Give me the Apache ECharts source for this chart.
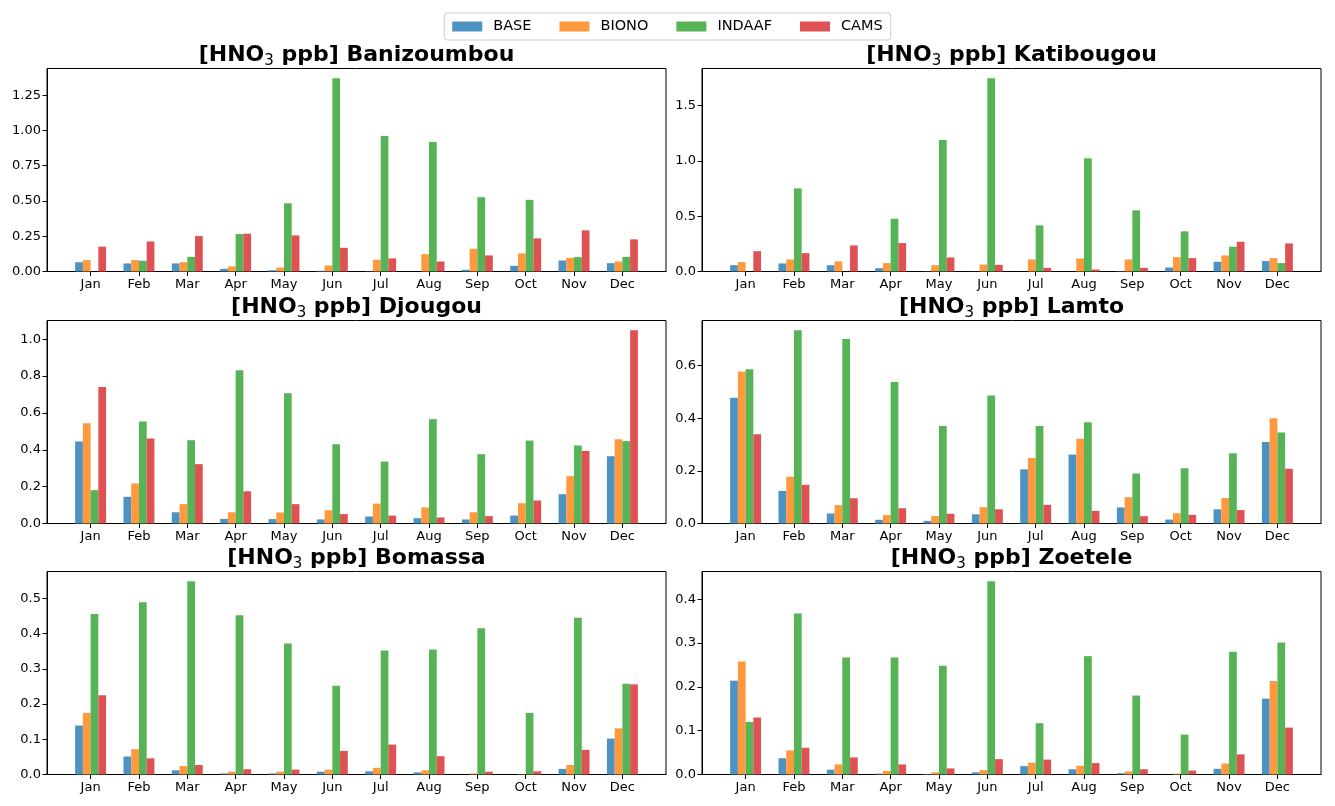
<!DOCTYPE html>
<html>
<head>
<meta charset="utf-8">
<script src="https://cdn.jsdelivr.net/npm/echarts@6/dist/echarts.min.js"></script>
<style>
html,body{margin:0;padding:0;background:#fff;}
#chart{width:1335px;height:806px;}
</style>
</head>
<body>
<div id="chart"></div>
<script>
const months = ['Jan','Feb','Mar','Apr','May','Jun','Jul','Aug','Sep','Oct','Nov','Dec'];
const seriesNames = ['BASE','BIONO','INDAAF','CAMS'];
const stations = ['Banizoumbou','Katibougou','Djougou','Lamto','Bomassa','Zoetele'];

const banizoumbouBASE   = [0.066,0.057,0.057,0.019,0.009,0.005,0.002,0.000,0.012,0.040,0.078,0.059];
const banizoumbouBIONO  = [0.081,0.081,0.066,0.036,0.028,0.043,0.083,0.123,0.161,0.128,0.097,0.071];
const banizoumbouINDAAF = [0.000,0.076,0.104,0.266,0.484,1.371,0.961,0.918,0.527,0.508,0.102,0.104];
const banizoumbouCAMS   = [0.176,0.213,0.251,0.268,0.256,0.168,0.093,0.071,0.114,0.235,0.292,0.228];

const katibougouBASE    = [0.057,0.073,0.057,0.030,0.002,0.001,0.000,0.000,0.003,0.036,0.088,0.094];
const katibougouBIONO   = [0.085,0.109,0.091,0.076,0.057,0.063,0.109,0.118,0.109,0.130,0.145,0.121];
const katibougouINDAAF  = [0.000,0.752,0.000,0.477,1.190,1.749,0.417,1.024,0.553,0.363,0.224,0.076];
const katibougouCAMS    = [0.184,0.166,0.236,0.257,0.127,0.060,0.033,0.018,0.033,0.121,0.269,0.254];

const djougouBASE       = [0.445,0.145,0.061,0.025,0.024,0.022,0.038,0.029,0.022,0.043,0.159,0.365];
const djougouBIONO      = [0.544,0.217,0.105,0.061,0.060,0.072,0.108,0.087,0.061,0.110,0.257,0.457];
const djougouINDAAF     = [0.181,0.553,0.452,0.832,0.707,0.430,0.336,0.566,0.376,0.450,0.423,0.447];
const djougouCAMS       = [0.740,0.461,0.322,0.175,0.105,0.051,0.043,0.033,0.040,0.125,0.394,1.049];

const lamtoBASE         = [0.478,0.124,0.038,0.014,0.010,0.035,0.206,0.262,0.061,0.015,0.054,0.310];
const lamtoBIONO        = [0.578,0.178,0.070,0.032,0.028,0.062,0.249,0.322,0.100,0.039,0.097,0.400];
const lamtoINDAAF       = [0.586,0.735,0.701,0.538,0.371,0.487,0.371,0.385,0.190,0.210,0.267,0.346];
const lamtoCAMS         = [0.339,0.147,0.096,0.058,0.037,0.054,0.071,0.048,0.028,0.033,0.051,0.208];

const bomassaBASE       = [0.139,0.051,0.012,0.003,0.003,0.008,0.009,0.006,0.000,0.000,0.016,0.102];
const bomassaBIONO      = [0.175,0.072,0.024,0.008,0.008,0.014,0.019,0.012,0.003,0.001,0.027,0.131];
const bomassaINDAAF     = [0.456,0.489,0.549,0.452,0.372,0.252,0.352,0.355,0.415,0.175,0.445,0.258];
const bomassaCAMS       = [0.225,0.046,0.027,0.015,0.014,0.067,0.085,0.052,0.008,0.009,0.070,0.256];

const zoeteleBASE       = [0.214,0.037,0.011,0.002,0.001,0.005,0.019,0.012,0.003,0.000,0.013,0.173];
const zoeteleBIONO      = [0.258,0.055,0.023,0.008,0.005,0.010,0.027,0.020,0.007,0.002,0.025,0.213];
const zoeteleINDAAF     = [0.120,0.367,0.267,0.267,0.248,0.441,0.117,0.270,0.180,0.091,0.280,0.301];
const zoeteleCAMS       = [0.130,0.061,0.039,0.023,0.014,0.035,0.034,0.026,0.012,0.009,0.046,0.107];

const yTicksBanizoumbou = [0, 0.25, 0.5, 0.75, 1.0, 1.25];
const yTicksKatibougou  = [0, 0.5, 1.0, 1.5];
const yTicksDjougou     = [0, 0.2, 0.4, 0.6, 0.8, 1.0];
const yTicksLamto       = [0, 0.2, 0.4, 0.6];
const yTicksBomassa     = [0, 0.1, 0.2, 0.3, 0.4, 0.5];
const yTicksZoetele     = [0, 0.1, 0.2, 0.3, 0.4];
const yDecimals         = [2, 1, 1, 1, 1, 1];

const panelData = [
  [banizoumbouBASE, banizoumbouBIONO, banizoumbouINDAAF, banizoumbouCAMS],
  [katibougouBASE, katibougouBIONO, katibougouINDAAF, katibougouCAMS],
  [djougouBASE, djougouBIONO, djougouINDAAF, djougouCAMS],
  [lamtoBASE, lamtoBIONO, lamtoINDAAF, lamtoCAMS],
  [bomassaBASE, bomassaBIONO, bomassaINDAAF, bomassaCAMS],
  [zoeteleBASE, zoeteleBIONO, zoeteleINDAAF, zoeteleCAMS]
];
const panelTicks = [yTicksBanizoumbou, yTicksKatibougou, yTicksDjougou, yTicksLamto, yTicksBomassa, yTicksZoetele];

const colors = ['#4c92c3', '#ff993e', '#56b356', '#de5253'];
const FONT = 'DejaVu Sans';

const colLeft = [47, 702];
const plotW = 619;
const rowTop = [68.5, 320.5, 571.5];
const plotH = 203;
const titleTop = [42, 294, 545];

const monthIdx = months.map((m, i) => i);

const grids = [], xAxes = [], yAxes = [], titles = [], series = [];
stations.forEach((st, i) => {
  const col = i % 2, row = Math.floor(i / 2);
  grids.push({
    left: colLeft[col], top: rowTop[row], width: plotW, height: plotH,
    show: true, borderColor: '#000', borderWidth: 1, backgroundColor: 'transparent'
  });
  xAxes.push({
    gridIndex: i, type: 'value', min: -0.902, max: 11.902,
    axisLine: { show: true, onZero: false, lineStyle: { color: '#000', width: 1 } },
    axisTick: { show: true, length: 4.5, lineStyle: { color: '#000', width: 1 }, customValues: monthIdx },
    axisLabel: { customValues: monthIdx, formatter: v => months[Math.round(v)], color: '#000', fontSize: 13, fontFamily: FONT, margin: 7 },
    splitLine: { show: false }
  });
  const allVals = [].concat(...panelData[i]);
  const ymax = Math.max(...allVals) * 1.05;
  const dec = yDecimals[i];
  yAxes.push({
    gridIndex: i, type: 'value', min: 0, max: ymax,
    axisLine: { show: true, onZero: false, lineStyle: { color: '#000', width: 1 } },
    axisTick: { show: true, length: 4.5, lineStyle: { color: '#000', width: 1 }, customValues: panelTicks[i] },
    axisLabel: { customValues: panelTicks[i], formatter: v => Number(v).toFixed(dec), color: '#000', fontSize: 13, fontFamily: FONT, margin: 6 },
    splitLine: { show: false }
  });
  titles.push({
    text: '{b|[HNO}{s|3}{b| ppb] ' + st + '}',
    left: colLeft[col] + plotW / 2, textAlign: 'center', top: titleTop[row], padding: 0,
    textStyle: {
      rich: {
        b: { fontSize: 22, fontWeight: 'bold', fontFamily: FONT, color: '#000', lineHeight: 27, verticalAlign: 'middle' },
        s: { fontSize: 15, fontWeight: 'normal', fontFamily: FONT, color: '#000', lineHeight: 15, verticalAlign: 'bottom' }
      }
    }
  });
  seriesNames.forEach((name, k) => {
    series.push({
      type: 'bar', name: name, xAxisIndex: i, yAxisIndex: i,
      data: panelData[i][k].map((v, m) => [m, v]),
      barWidth: '16%', barGap: '0%',
      itemStyle: { color: colors[k] },
      emphasis: { disabled: true },
      silent: true
    });
  });
});

const chart = echarts.init(document.getElementById('chart'));
chart.setOption({
  animation: false,
  backgroundColor: '#fff',
  color: colors,
  title: titles,
  legend: {
    data: seriesNames, top: 13, left: 'center', icon: 'rect',
    itemWidth: 30, itemHeight: 10, itemGap: 28,
    padding: [6, 8], borderColor: '#cccccc', borderWidth: 1, borderRadius: 3,
    textStyle: { fontSize: 14.5, color: '#000', fontFamily: FONT, padding: [0, 0, 0, 6] }
  },
  grid: grids,
  xAxis: xAxes,
  yAxis: yAxes,
  series: series
});
</script>
</body>
</html>
